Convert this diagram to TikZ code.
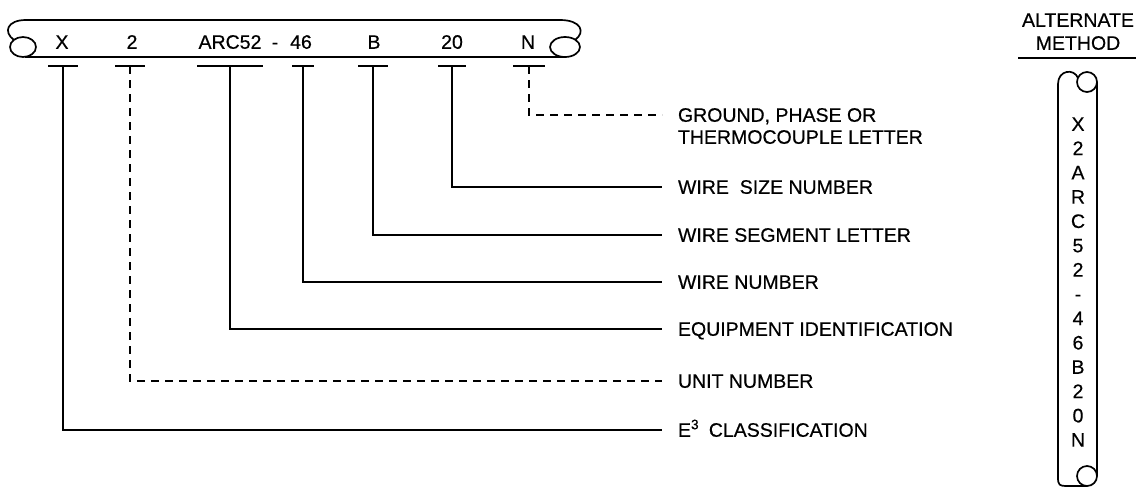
\documentclass[tikz,border=0pt]{standalone}
\usepackage{fontspec}
\setmainfont{Liberation Sans}[FakeBold=0.5]
\usetikzlibrary{positioning}

\begin{document}
\begin{tikzpicture}[x=1pt,y=-1pt,
    tape/.style={line width=1.7pt},
    stem/.style={line width=1.9pt},
    dstem/.style={line width=2.2pt,dash pattern=on 8pt off 6pt},
    lbl/.style={anchor=west,inner sep=4pt,outer sep=12pt,text height=13.5pt,text depth=0pt,font=\fontsize{19.5}{23}\selectfont},
    ltr/.style={inner sep=1pt,text height=13.5pt,text depth=0pt,font=\fontsize{19.5}{23}\selectfont}]
    \useasboundingbox (0,0) rectangle (1139,488);
    % wire tape
    \draw[tape] (23,47) ellipse [x radius=13,y radius=10];
    \draw[tape] (565,47) ellipse [x radius=15,y radius=10];
    \draw[tape] (14,40) .. controls (3,32) and (7,20) .. (26,20) -- (560,20) .. controls (581,20) and (586,32) .. (575,40);
    \draw[tape] (25,57) -- (565,57);
    \node[ltr] (hX) at (62,42) {X};
    \node[ltr] (h2) at (132,42) {2};
    \node[ltr] (hArc) at (230,42) {ARC52};
    \node[ltr] (hDash) at (275,42) {-};
    \node[ltr] (h46) at (301,42) {46};
    \node[ltr] (hB) at (374,42) {B};
    \node[ltr] (h20) at (452,42) {20};
    \node[ltr] (hN) at (528,42) {N};
    % tick bars
    \foreach \nm/\c/\w in {X/63/15,U/130/15,E/230/33,W/303/11,S/373/15,Z/452/14,G/529/16} {
        \coordinate (t\nm) at (\c,66);
        \draw[stem] (\c-\w,66) -- (\c+\w,66);
    }
    % labels
    \node[lbl] (lG) at (662,115) {GROUND, PHASE OR};
    \node[lbl] (lG2) at ([yshift=-22pt]lG.west) {THERMOCOUPLE LETTER};
    \node[lbl] (lZ) at (662,187) {WIRE\ \ SIZE NUMBER};
    \node[lbl] (lS) at (662,235) {WIRE SEGMENT LETTER};
    \node[lbl] (lW) at (662,282) {WIRE NUMBER};
    \node[lbl] (lE) at (662,329) {EQUIPMENT IDENTIFICATION};
    \node[lbl] (lU) at (662,381) {UNIT NUMBER};
    \node[lbl] (lX) at (662,430) {E\textsuperscript{3}\hspace{.5em}CLASSIFICATION};
    \draw[stem] (tX) |- (lX.west);
    \draw[dstem] (tU) |- (lU.west);
    \draw[stem] (tE) |- (lE.west);
    \draw[stem] (tW) |- (lW.west);
    \draw[stem] (tS) |- (lS.west);
    \draw[stem] (tZ) |- (lZ.west);
    \draw[dstem] (tG) |- (lG.west);
    % alternate method
    \node[ltr] (alt) at (1078,20) {ALTERNATE};
    \node[ltr] (meth) at (1078,43) {METHOD};
    \draw[tape] (1018,58) -- (1136,58);
    \draw[tape] (1087,82) circle [radius=10];
    \draw[tape] (1087,476) circle [radius=10];
    \draw[tape] (1078,78) .. controls (1074,68) and (1058,70) .. (1058,84) -- (1058,478) .. controls (1058,485) and (1060,486) .. (1066,486) -- (1087,486);
    \draw[tape] (1097,82) -- (1097,476);
    \foreach \c [count=\i from 0] in {X,2,A,R,C,5,2,-,4,6,B,2,0,N}
        \node[ltr] (v\i) at (1078,124+24.3*\i) {\c};
\end{tikzpicture}
\end{document}
